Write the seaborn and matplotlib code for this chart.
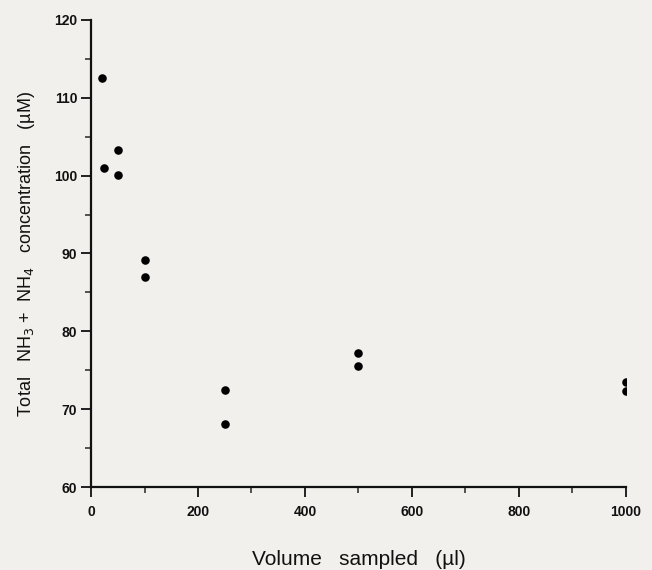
import numpy as np
import pandas as pd
import matplotlib
matplotlib.use("Agg")
import matplotlib.pyplot as plt
import seaborn as sns
from matplotlib.ticker import MultipleLocator

volume = [20, 25, 50, 50, 100, 100, 250, 250, 500, 500, 1000, 1000]
conc = [112.6, 101.0, 103.3, 100.1, 89.2, 87.0, 72.5, 68.1, 77.2, 75.6, 73.5, 72.3]

df = pd.DataFrame({"volume": volume, "conc": conc})

sns.set_style("ticks")
plt.rcParams["font.family"] = ["Liberation Sans", "DejaVu Sans"]
bg = "#f2f0ec"

fig = plt.figure(figsize=(6.52, 5.70), dpi=100, facecolor=bg)
ax = fig.add_axes([0.1396, 0.1456, 0.8204, 0.8194])
ax.set_facecolor(bg)

sns.scatterplot(data=df, x="volume", y="conc", ax=ax, color="black",
                s=38, edgecolor="black", linewidth=0, legend=False)

ax.set_xlim(0, 1000)
ax.set_ylim(60, 120)
ax.xaxis.set_major_locator(MultipleLocator(200))
ax.xaxis.set_minor_locator(MultipleLocator(100))
ax.yaxis.set_major_locator(MultipleLocator(10))
ax.yaxis.set_minor_locator(MultipleLocator(5))

sns.despine(ax=ax)
for sp in ["left", "bottom"]:
    ax.spines[sp].set_linewidth(1.6)
    ax.spines[sp].set_color("#111111")

ax.tick_params(axis="both", which="major", length=7, width=1.3, direction="out",
               labelsize=10, colors="#111111")
ax.tick_params(axis="both", which="minor", length=4, width=1.1, direction="out")
ax.tick_params(axis="x", pad=6)
ax.tick_params(axis="y", pad=3)
for t in ax.get_xticklabels() + ax.get_yticklabels():
    t.set_fontweight("bold")

ax.set_xlabel("Volume   sampled   (\u00b5l)", fontsize=15,
              labelpad=22, color="#111111")
ax.set_ylabel("Total   NH$_3$ +  NH$_4$   concentration   (\u00b5M)", fontsize=13,
              labelpad=12, color="#111111")

fig.savefig("out.png", dpi=100, facecolor=bg)
